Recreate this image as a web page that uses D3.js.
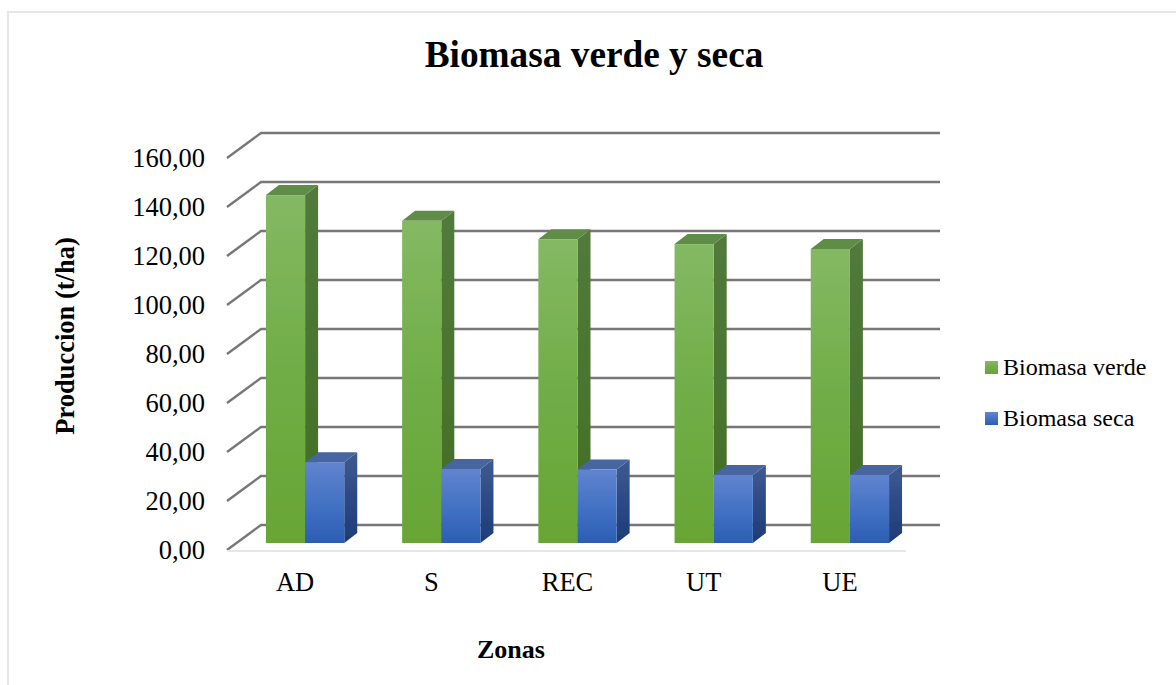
<!DOCTYPE html>
<html>
<head>
<meta charset="utf-8">
<script src="https://d3js.org/d3.v7.min.js"></script>
<style>
  html, body { margin: 0; padding: 0; background: #fff; overflow: hidden; }
  text { font-family: "Liberation Serif", serif; fill: #000; }
</style>
</head>
<body>
<div id="chart"></div>
<script>
var zonas = ["AD", "S", "REC", "UT", "UE"];
var verde = [142, 131.5, 124, 122, 120];
var seca = [33, 30.2, 30, 27.8, 27.8];
var serieNames = ["Biomasa verde", "Biomasa seca"];
var yTicks = [0, 20, 40, 60, 80, 100, 120, 140, 160];

var width = 1176, height = 685;

var svg = d3.select("#chart")
  .append("svg")
    .attr("width", width)
    .attr("height", height);

var defs = svg.append("defs");

function gradient(id, top, mid, bottom) {
  var g = defs.append("linearGradient")
      .attr("id", id)
      .attr("x1", 0).attr("y1", 0)
      .attr("x2", 0).attr("y2", 1);
  g.append("stop").attr("offset", "0%").attr("stop-color", top);
  g.append("stop").attr("offset", "50%").attr("stop-color", mid);
  g.append("stop").attr("offset", "100%").attr("stop-color", bottom);
}
gradient("greenFront", "#84b963", "#70ad47", "#68a535");
gradient("greenSide", "#527a3c", "#4a7530", "#3f6d20");
gradient("blueFront", "#6184cf", "#4472c4", "#2b5eb3");
gradient("blueSide", "#3f5b92", "#2b4a86", "#1d3c78");

// the reference is a slightly soft screenshot
defs.append("filter")
    .attr("id", "soft")
    .attr("filterUnits", "userSpaceOnUse")
    .attr("x", 0).attr("y", 0)
    .attr("width", width).attr("height", height)
  .append("feGaussianBlur")
    .attr("stdDeviation", 0.45);

// outer frame
svg.append("path")
    .attr("d", "M8,685V12H1176")
    .attr("fill", "none")
    .attr("stroke", "#e3e6ea")
    .attr("stroke-width", 2);

// front plane scales, the wall sits at (wallDx, wallDy) behind them
var x = d3.scaleBand()
    .domain(zonas)
    .range([227, 908])
    .paddingInner(0.425)
    .paddingOuter(0.2125);

var y = d3.scaleLinear()
    .domain([0, 160])
    .range([550, 158]);

var floorRight = 906;
var wallDx = 34, wallDy = -25;
var barDx = 10, barDy = -7;   // where the bars stand on the floor
var depthDx = 13, depthDy = -10;  // depth of a bar

var grid = svg.append("g").attr("filter", "url(#soft)");

yTicks.forEach(function(t) {
  var p = d3.path();
  p.moveTo(x.range()[0], y(t));
  p.lineTo(x.range()[0] + wallDx, y(t) + wallDy);
  p.lineTo(floorRight + wallDx, y(t) + wallDy);
  grid.append("path")
      .attr("d", p.toString())
      .attr("fill", "none")
      .attr("stroke", "#7a7676")
      .attr("stroke-width", 2.4);
});

// floor front edge
svg.append("line")
    .attr("x1", x.range()[0]).attr("x2", floorRight)
    .attr("y1", y(0) + 1).attr("y2", y(0) + 1)
    .attr("stroke", "#e3e6ea")
    .attr("stroke-width", 2);

var barW = x.bandwidth() / 2;

function drawBar(g, x0, value, colors) {
  var x1 = x0 + barW;
  var yb = y(0) + barDy;
  var yt = y(value) + barDy;
  // side
  g.append("path")
      .attr("d", "M" + x1 + "," + yt + "L" + (x1 + depthDx) + "," + (yt + depthDy) +
        "V" + (yb + depthDy) + "L" + x1 + "," + yb + "Z")
      .attr("fill", "url(#" + colors.side + ")");
  // top
  g.append("path")
      .attr("d", "M" + x0 + "," + yt + "L" + (x0 + depthDx) + "," + (yt + depthDy) +
        "H" + (x1 + depthDx) + "L" + x1 + "," + yt + "Z")
      .attr("fill", colors.top);
  // front
  g.append("rect")
      .attr("x", x0)
      .attr("y", yt)
      .attr("width", barW)
      .attr("height", yb - yt)
      .attr("fill", "url(#" + colors.front + ")");
}

var greenColors = { front: "greenFront", side: "greenSide", top: "#5f8c47" };
var blueColors = { front: "blueFront", side: "blueSide", top: "#47659f" };

var bars = svg.append("g").attr("filter", "url(#soft)");
zonas.forEach(function(z, i) {
  var g = bars.append("g");
  drawBar(g, x(z) + barDx, verde[i], greenColors);
  drawBar(g, x(z) + barDx + barW, seca[i], blueColors);
});

// axes
var yAxis = d3.axisLeft(y)
    .tickValues(yTicks)
    .tickSize(0)
    .tickPadding(0)
    .tickFormat(function(d) { return d3.format(".2f")(d).replace(".", ","); });

svg.append("g")
    .attr("transform", "translate(205,0)")
    .call(yAxis)
    .call(function(g) { g.select(".domain").remove(); })
    .selectAll("text")
      .style("font-family", "'Liberation Serif', serif")
      .style("font-size", "26.5px")
      .attr("fill", "#000");

var xAxis = d3.axisBottom(x)
    .tickSize(0)
    .tickPadding(0);

svg.append("g")
    .attr("transform", "translate(0,572)")
    .call(xAxis)
    .call(function(g) { g.select(".domain").remove(); })
    .selectAll("text")
      .style("font-family", "'Liberation Serif', serif")
      .style("font-size", "26.5px")
      .attr("fill", "#000");

// titles
svg.append("text")
    .attr("x", 594)
    .attr("y", 67)
    .attr("text-anchor", "middle")
    .style("font-size", "37.3px")
    .style("font-weight", "bold")
    .text("Biomasa verde y seca");

svg.append("text")
    .attr("x", 511)
    .attr("y", 658)
    .attr("text-anchor", "middle")
    .style("font-size", "26px")
    .style("font-weight", "bold")
    .text("Zonas");

svg.append("text")
    .attr("transform", "translate(74,336) rotate(-90)")
    .attr("text-anchor", "middle")
    .style("font-size", "26.5px")
    .style("font-weight", "bold")
    .text("Produccion (t/ha)");

// legend
var legendY = d3.scalePoint()
    .domain(serieNames)
    .range([367.5, 418.5]);

var legendFill = { "Biomasa verde": "greenFront", "Biomasa seca": "blueFront" };

var legend = svg.selectAll("g.legend")
    .data(serieNames)
  .enter().append("g")
    .attr("class", "legend")
    .attr("transform", function(d) { return "translate(985," + legendY(d) + ")"; });

legend.append("rect")
    .attr("y", -6.5)
    .attr("width", 13)
    .attr("height", 13)
    .attr("fill", function(d) { return "url(#" + legendFill[d] + ")"; });

legend.append("text")
    .attr("x", 18)
    .attr("y", 7.5)
    .style("font-size", "24px")
    .text(function(d) { return d; });
</script>
</body>
</html>
